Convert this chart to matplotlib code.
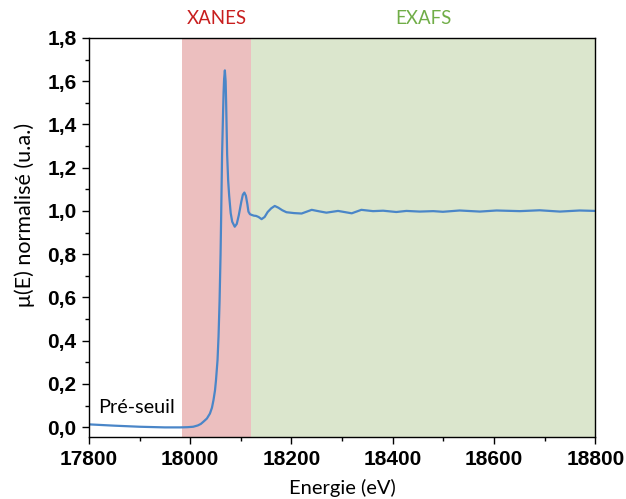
#!/usr/bin/env python3

# Import Packages
import numpy as np # NUMPY array
import matplotlib
matplotlib.use('Agg')
import matplotlib.pyplot as plt # Matplotlib plot
from matplotlib.ticker import MultipleLocator, FuncFormatter

# Spectrum (energy in eV, normalised mu)
energy = [17800, 17850, 17900, 17950, 17980, 17995, 18006, 18015, 18021, 18026,
          18033, 18039, 18043, 18046, 18049, 18051, 18054, 18056, 18058, 18060,
          18061, 18063, 18065, 18066, 18067, 18068.5, 18070, 18071, 18073, 18075,
          18077, 18080, 18083, 18088, 18092, 18096, 18101, 18104, 18107, 18110,
          18113, 18115, 18118, 18122, 18126, 18130, 18135, 18141, 18147, 18153,
          18160, 18167, 18174, 18182, 18190, 18205, 18220, 18240, 18255, 18269,
          18292, 18319, 18338, 18361, 18381, 18407, 18427, 18453, 18480, 18499,
          18532, 18572, 18605, 18651, 18690, 18730, 18769, 18800]
mu = [0.013, 0.007, 0.002, -0.001, -0.001, 0.0, 0.002, 0.008, 0.015, 0.025,
      0.04, 0.063, 0.09, 0.125, 0.17, 0.218, 0.31, 0.42, 0.58, 0.80,
      0.95, 1.26, 1.46, 1.55, 1.61, 1.65, 1.60, 1.50, 1.26, 1.14,
      1.07, 0.99, 0.95, 0.927, 0.94, 0.98, 1.043, 1.075, 1.085, 1.07,
      1.03, 0.997, 0.985, 0.981, 0.978, 0.977, 0.972, 0.962, 0.972, 0.995,
      1.012, 1.023, 1.015, 1.003, 0.994, 0.99, 0.988, 1.005, 0.998, 0.992,
      1.0, 0.989, 1.005, 0.999, 1.001, 0.995, 1.0, 0.997, 0.999, 0.996,
      1.002, 0.997, 1.002, 0.999, 1.003, 0.997, 1.002, 1.0]

# Regions
xanes_range = (17984, 18121)
exafs_range = (18121, 18800)

fig = plt.figure(figsize=(6.26, 4.99), dpi=100)
ax = fig.add_axes([0.142, 0.124, 0.809, 0.8])

ax.axvspan(*xanes_range, color='#ecbfbf', lw=0, zorder=0)
ax.axvspan(*exafs_range, color='#dbe6cd', lw=0, zorder=0)
ax.plot(energy, mu, color='#4a86c8', lw=1.6, zorder=2)

ax.set_xlim(17800, 18800)
ax.set_ylim(-0.046, 1.8)

# Ticks
ax.xaxis.set_major_locator(MultipleLocator(200))
ax.xaxis.set_minor_locator(MultipleLocator(100))
ax.yaxis.set_major_locator(MultipleLocator(0.2))
ax.yaxis.set_minor_locator(MultipleLocator(0.1))
ax.yaxis.set_major_formatter(FuncFormatter(lambda v, p: ('%.1f' % v).replace('.', ',')))
ax.xaxis.set_major_formatter(FuncFormatter(lambda v, p: '%d' % v))
ax.tick_params(which='both', direction='out', top=False, right=False, width=1.0)
ax.tick_params(which='major', length=5, pad=4)
ax.tick_params(which='minor', length=3)
for lab in ax.get_xticklabels() + ax.get_yticklabels():
    lab.set_fontfamily('Liberation Sans')
    lab.set_fontweight('bold')
    lab.set_fontsize(15)
for s in ax.spines.values():
    s.set_linewidth(1.0)

ax.set_xlabel('Energie (eV)', family='Lato', fontsize=14.5)
ax.set_ylabel('μ(E) normalisé (u.a.)', family='Lato', fontsize=15.5)
ax.xaxis.set_label_coords(0.5, -0.128)
ax.yaxis.set_label_coords(-0.126, 0.556)
ax.xaxis.label.set_va('center')
ax.yaxis.label.set_va('center')

# Region labels
ax.text(np.mean(xanes_range), 1.888, 'XANES', color='#c81e1e', family='Lato',
        fontsize=13.4, ha='center', va='center', clip_on=False)
ax.text(np.mean(exafs_range), 1.888, 'EXAFS', color='#70ad47', family='Lato',
        fontsize=13.4, ha='center', va='center', clip_on=False)
ax.text(17818, 0.065, 'Pré-seuil', family='Lato', fontsize=14.3, ha='left', va='baseline')

fig.savefig('out.png', dpi=100)
